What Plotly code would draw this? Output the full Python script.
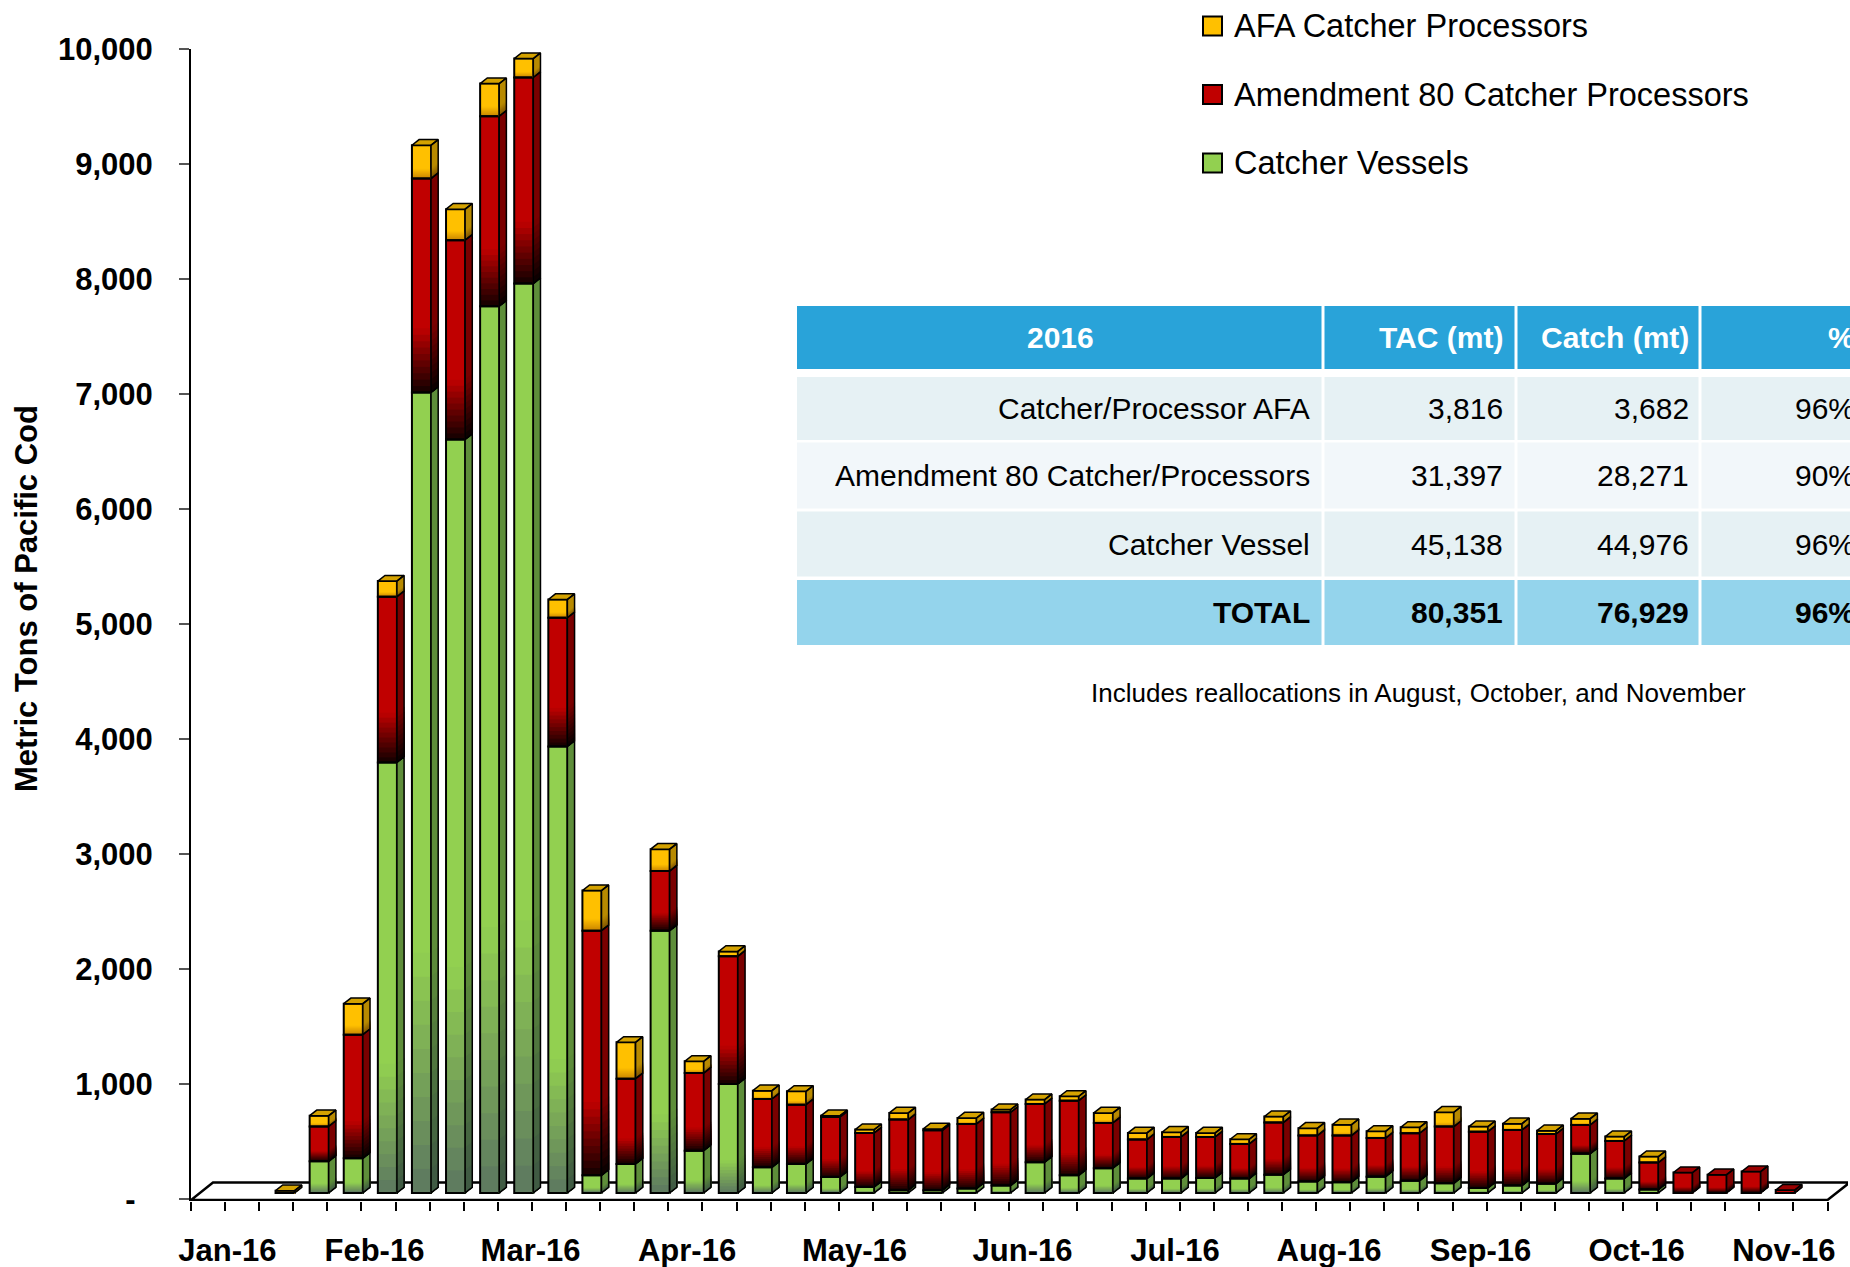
import plotly.graph_objects as go

# ---------------- data ----------------
# weekly slots on a 48-slot category axis (1-based); first bar sits in slot 3
WEEK_SLOT = list(range(3, 48))
CATCHER_VESSELS = [0, 275, 301, 3745, 6962, 6554, 7713, 7910, 3884, 153,
                   252, 2281, 368, 948, 223, 252, 139, 52, 23, 23,
                   38, 64, 267, 153, 215, 125, 125, 130, 125, 159,
                   99, 93, 142, 107, 84, 43, 64, 81, 341, 125,
                   29, 0, 0, 0, 0]
A80_CP = [0, 304, 1076, 1441, 1861, 1733, 1652, 1792, 1119, 2128,
          742, 519, 675, 1110, 594, 516, 522, 470, 615, 522,
          562, 637, 507, 650, 394, 339, 362, 357, 301, 453,
          400, 406, 335, 412, 493, 490, 484, 432, 250, 327,
          235, 177, 159, 186, 25]
AFA_CP = [20, 93, 269, 136, 290, 270, 284, 165, 159, 349,
          316, 190, 102, 43, 73, 116, 11, 29, 58, 12,
          52, 24, 38, 38, 87, 58, 41, 35, 41, 52,
          64, 95, 59, 52, 125, 44, 55, 29, 55, 38,
          52, 0, 0, 0, 0]
SERIES_NAMES = ["AFA Catcher Processors", "Amendment 80 Catcher Processors", "Catcher Vessels"]
MONTH_LABELS = ["Jan-16", "Feb-16", "Mar-16", "Apr-16", "May-16", "Jun-16",
                "Jul-16", "Aug-16", "Sep-16", "Oct-16", "Nov-16"]
Y_TICK_VALUES = [0, 1000, 2000, 3000, 4000, 5000, 6000, 7000, 8000, 9000, 10000]
Y_TITLE = "Metric Tons of Pacific Cod"

TABLE_HEADER = ["2016", "TAC (mt)", "Catch (mt)", "%"]
TABLE_SECTOR = ["Catcher/Processor AFA", "Amendment 80 Catcher/Processors", "Catcher Vessel", "TOTAL"]
TABLE_TAC = ["3,816", "31,397", "45,138", "80,351"]
TABLE_CATCH = ["3,682", "28,271", "44,976", "76,929"]
TABLE_PCT = ["96%", "90%", "96%", "96%"]
NOTE = "Includes reallocations in August, October, and November"

# ---------------- layout geometry / style ----------------
FIG_W, FIG_H = 1850, 1267
PLOT_L, PLOT_R, PLOT_T, PLOT_B = 191, 1848, 49, 1201
N_SLOTS = 48
X_RANGE = [0, 48.6]
Y_RANGE = [-70, 9950]
FRONT_SHIFT = 52          # value-units between bar plane and front (axis) plane
FLOOR_FRONT, FLOOR_BACK, FLOOR_DX = -61, 90, 0.645
OFF, BW, DX, DY = 0.26, 0.56, 0.21, 49   # bar offset, front width, depth x, depth y
GF, NS = 0.30, 10         # gradient fraction at segment bottom, number of gradient steps
LABEL_POS = [1.07, 5.38, 9.96, 14.55, 19.46, 24.39, 28.86, 33.38, 37.82, 42.40, 46.72]

FONT = "Liberation Sans, Arial, sans-serif"

STYLES = [
    dict(front="#92D050", front_dark="#5C7860", side="#5E8E3A", side_dark="#3E5843", top="#7DB845"),
    dict(front="#C00000", front_dark="#120000", side="#7A0000", side_dark="#080000", top="#990000"),
    dict(front="#FFC000", front_dark="#C98400", side="#B88A00", side_dark="#7E5200", top="#D4A200"),
]


def paper_x(px):
    return (px - PLOT_L) / (PLOT_R - PLOT_L)


def paper_y(py):
    return (PLOT_B - py) / (PLOT_B - PLOT_T)


def rgb(h):
    h = h.lstrip("#")
    return tuple(int(h[i:i + 2], 16) for i in (0, 2, 4))


def mix(c_bot, c_top, t):
    a, b = rgb(c_bot), rgb(c_top)
    return "rgb(%d,%d,%d)" % tuple(round(a[i] + (b[i] - a[i]) * t) for i in range(3))


n = len(WEEK_SLOT)
xc = [w - 1 + 0.5 + OFF for w in WEEK_SLOT]
seg_vals = [CATCHER_VESSELS, A80_CP, AFA_CP]
seg_base = []
running = [0] * n
for vals in seg_vals:
    seg_base.append(running[:])
    running = [r + v for r, v in zip(running, vals)]
totals = running

fig = go.Figure()

# gradient levels: each level fills from the segment bottom up to fraction f (drawn top-down, no seams)
levels = [(1.0, None)] + [(GF * (j + 1) / NS, (j + 0.5) / NS) for j in reversed(range(NS))]

# ---- front faces (bars) with bottom gradient ----
for vals, base, st in zip(seg_vals, seg_base, STYLES):
    for f1, t in levels:
        col = st["front"] if t is None else mix(st["front_dark"], st["front"], t)
        fig.add_trace(go.Bar(
            x=xc, y=[v * f1 if v > 0 else None for v in vals], base=base, width=BW,
            marker=dict(color=col, line=dict(width=0)),
            hoverinfo="skip", showlegend=False))
for vals, base in zip(seg_vals, seg_base):
    fig.add_trace(go.Bar(
        x=xc, y=[v if v > 0 else None for v in vals], base=base, width=BW,
        marker=dict(color="rgba(0,0,0,0)", line=dict(color="black", width=2)),
        hoverinfo="skip", showlegend=False))

# ---- side faces (with matching gradient) ----
outline_x, outline_y = [], []
for vals, base, st in zip(seg_vals, seg_base, STYLES):
    for f1, t in levels:
        col = st["side"] if t is None else mix(st["side_dark"], st["side"], t)
        px_, py_ = [], []
        for x, b, v in zip(xc, base, vals):
            if v <= 0:
                continue
            xr = x + BW / 2
            y1 = b + v * f1
            px_ += [xr, xr + DX, xr + DX, xr, xr, None]
            py_ += [b, b + DY, y1 + DY, y1, b, None]
        fig.add_trace(go.Scatter(x=px_, y=py_, mode="lines", fill="toself", fillcolor=col,
                                 line=dict(color=col, width=0.5), hoverinfo="skip", showlegend=False))
    for x, b, v in zip(xc, base, vals):
        if v <= 0:
            continue
        xr = x + BW / 2
        outline_x += [xr, xr + DX, xr + DX, xr, xr, None]
        outline_y += [b, b + DY, b + v + DY, b + v, b, None]

# ---- top faces ----
for k, st in enumerate(STYLES):
    px_, py_ = [], []
    for i in range(n):
        top_k = max([j for j in range(3) if seg_vals[j][i] > 0], default=None)
        if top_k != k:
            continue
        xl, xr, t = xc[i] - BW / 2, xc[i] + BW / 2, totals[i]
        px_ += [xl, xl + DX, xr + DX, xr, xl, None]
        py_ += [t, t + DY, t + DY, t, t, None]
    if px_:
        fig.add_trace(go.Scatter(x=px_, y=py_, mode="lines", fill="toself", fillcolor=st["top"],
                                 line=dict(color="black", width=1.5), hoverinfo="skip", showlegend=False))
fig.add_trace(go.Scatter(x=outline_x, y=outline_y, mode="lines",
                         line=dict(color="black", width=1.5), hoverinfo="skip", showlegend=False))

# ---- floor ----
shapes = [dict(type="path", xref="x", yref="y", layer="below",
               path=f"M 0,{FLOOR_FRONT} L {N_SLOTS},{FLOOR_FRONT} L {N_SLOTS + FLOOR_DX},{FLOOR_BACK} "
                    f"L {FLOOR_DX},{FLOOR_BACK} Z",
               fillcolor="white", line=dict(color="black", width=2.5))]
annotations = []

# ---- table ----
COL_EDGES = [797, 1323, 1516, 1700, 1905]
ROW_EDGES = [(306, 369), (377, 440), (442.5, 508.5), (511.5, 576.5), (580, 645)]
ROW_FILLS = ["#29A3D9", "#E6F1F4", "#F2F7FA", "#E6F1F4", "#94D4EC"]
TEXT_RIGHT = [1312, 1505, 1691, 1857]
for r, ((y0, y1), fill) in enumerate(zip(ROW_EDGES, ROW_FILLS)):
    for c in range(4):
        shapes.append(dict(type="rect", xref="paper", yref="paper", layer="above",
                           x0=paper_x(COL_EDGES[c] + (1.5 if c else 0)), x1=paper_x(COL_EDGES[c + 1] - 1.5),
                           y0=paper_y(y1), y1=paper_y(y0), fillcolor=fill, line=dict(width=0)))
rows = [TABLE_HEADER] + [list(t) for t in zip(TABLE_SECTOR, TABLE_TAC, TABLE_CATCH, TABLE_PCT)]
for r, row in enumerate(rows):
    y0, y1 = ROW_EDGES[r]
    header, total = r == 0, r == len(rows) - 1
    for c, txt in enumerate(row):
        if header and c == 0:
            xp, anchor = paper_x((COL_EDGES[0] + COL_EDGES[1]) / 2), "center"
        else:
            xp, anchor = paper_x(TEXT_RIGHT[c]), "right"
        annotations.append(dict(
            xref="paper", yref="paper", x=xp, y=paper_y((y0 + y1) / 2), text=txt, showarrow=False,
            xanchor=anchor, yanchor="middle",
            font=dict(family=FONT, size=30, color="white" if header else "black",
                      weight="bold" if (header or total) else "normal")))
annotations.append(dict(xref="paper", yref="paper", x=paper_x(1418), y=paper_y(693), text=NOTE,
                        showarrow=False, xanchor="center", yanchor="middle",
                        font=dict(family=FONT, size=26, color="black")))

# ---- legend (manual) ----
LEG_Y = [26, 94.5, 163]
for name, yc, st in zip(SERIES_NAMES, LEG_Y, [STYLES[2], STYLES[1], STYLES[0]]):
    shapes.append(dict(type="rect", xref="paper", yref="paper", layer="above",
                       x0=paper_x(1203), x1=paper_x(1222), y0=paper_y(yc + 9.5), y1=paper_y(yc - 9.5),
                       fillcolor=st["front"], line=dict(color="black", width=2)))
    annotations.append(dict(xref="paper", yref="paper", x=paper_x(1232), y=paper_y(yc), text=name,
                            showarrow=False, xanchor="left", yanchor="middle",
                            font=dict(family=FONT, size=32.5, color="black")))

# ---- y-axis title ----
annotations.append(dict(xref="paper", yref="paper", x=paper_x(26), y=paper_y(599), text=Y_TITLE,
                        showarrow=False, textangle=-90, xanchor="center", yanchor="middle",
                        font=dict(family=FONT, size=31, color="black", weight="bold")))

y_ticktext = [f"{v:,}" if v else "-\u00a0\u00a0" for v in Y_TICK_VALUES]

fig.update_layout(
    width=FIG_W, height=FIG_H,
    margin=dict(l=PLOT_L, r=FIG_W - PLOT_R, t=PLOT_T, b=FIG_H - PLOT_B, autoexpand=False),
    paper_bgcolor="white", plot_bgcolor="rgba(0,0,0,0)",
    barmode="overlay", showlegend=False,
    shapes=shapes, annotations=annotations,
    xaxis=dict(range=X_RANGE, showgrid=False, zeroline=False, showline=False,
               tickmode="array", tickvals=LABEL_POS, ticktext=MONTH_LABELS, ticks="",
               ticklabelstandoff=28,
               tickfont=dict(family=FONT, size=31, color="black", weight="bold"),
               minor=dict(tick0=0, dtick=1, ticks="outside", ticklen=9, tickwidth=1.5,
                          tickcolor="black", showgrid=False),
               fixedrange=True),
    yaxis=dict(range=Y_RANGE, showgrid=False, zeroline=False, showline=True,
               linecolor="black", linewidth=2,
               tickmode="array", tickvals=[v - FRONT_SHIFT for v in Y_TICK_VALUES], ticktext=y_ticktext,
               ticks="outside", ticklen=10, tickwidth=1.5, tickcolor="#555555",
               ticklabelstandoff=20,
               tickfont=dict(family=FONT, size=31, color="black", weight="bold"),
               fixedrange=True),
)

fig.write_html("out.html", config={"displayModeBar": False},
               post_script="document.body.style.margin='0px';document.body.style.overflow='hidden';")
